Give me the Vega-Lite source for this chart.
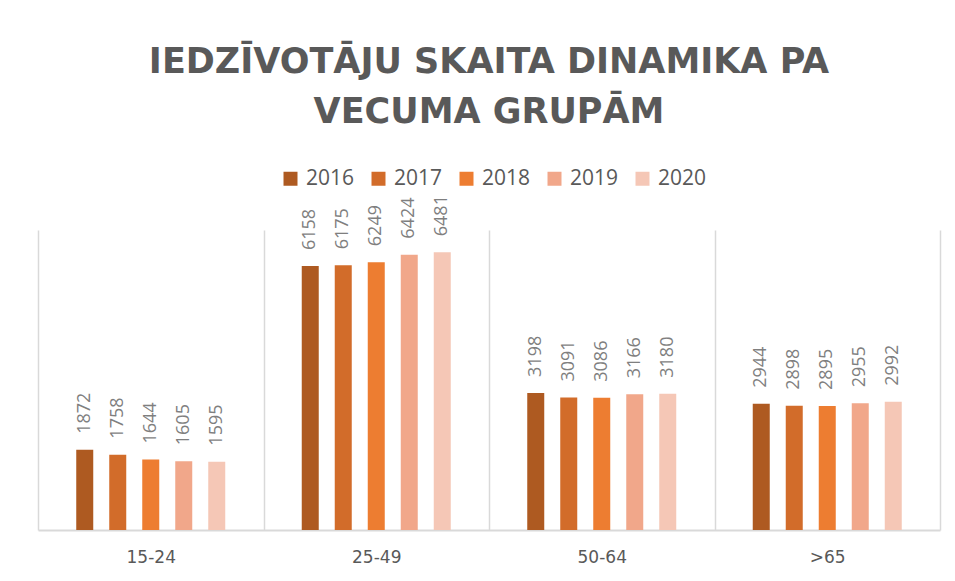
{
  "$schema": "https://vega.github.io/schema/vega-lite/v6.json",
  "width": 902,
  "height": 300,
  "autosize": {"type": "none"},
  "padding": {"left": 38, "top": 230, "right": 15, "bottom": 51},
  "background": "white",
  "title": {
    "text": ["IEDZĪVOTĀJU SKAITA DINAMIKA PA", "VECUMA GRUPĀM"],
    "font": "DejaVu Sans",
    "fontSize": 35,
    "fontWeight": "bold",
    "color": "#595959",
    "lineHeight": 50,
    "anchor": "middle",
    "frame": "group",
    "offset": 38
  },
  "config": {
    "view": {"stroke": null},
    "font": "Open Sans"
  },
  "data": {
    "values": [
      {"grupa": "15-24", "gads": "2016", "vertiba": 1872},
      {"grupa": "15-24", "gads": "2017", "vertiba": 1758},
      {"grupa": "15-24", "gads": "2018", "vertiba": 1644},
      {"grupa": "15-24", "gads": "2019", "vertiba": 1605},
      {"grupa": "15-24", "gads": "2020", "vertiba": 1595},
      {"grupa": "25-49", "gads": "2016", "vertiba": 6158},
      {"grupa": "25-49", "gads": "2017", "vertiba": 6175},
      {"grupa": "25-49", "gads": "2018", "vertiba": 6249},
      {"grupa": "25-49", "gads": "2019", "vertiba": 6424},
      {"grupa": "25-49", "gads": "2020", "vertiba": 6481},
      {"grupa": "50-64", "gads": "2016", "vertiba": 3198},
      {"grupa": "50-64", "gads": "2017", "vertiba": 3091},
      {"grupa": "50-64", "gads": "2018", "vertiba": 3086},
      {"grupa": "50-64", "gads": "2019", "vertiba": 3166},
      {"grupa": "50-64", "gads": "2020", "vertiba": 3180},
      {"grupa": ">65", "gads": "2016", "vertiba": 2944},
      {"grupa": ">65", "gads": "2017", "vertiba": 2898},
      {"grupa": ">65", "gads": "2018", "vertiba": 2895},
      {"grupa": ">65", "gads": "2019", "vertiba": 2955},
      {"grupa": ">65", "gads": "2020", "vertiba": 2992}
    ]
  },
  "encoding": {
    "x": {
      "field": "grupa",
      "type": "nominal",
      "sort": ["15-24", "25-49", "50-64", ">65"],
      "scale": {"paddingInner": 0, "paddingOuter": 0},
      "axis": {
        "title": null,
        "labelAngle": 0,
        "labelFont": "DejaVu Sans",
        "labelFontSize": 17,
        "labelColor": "#595959",
        "labelPadding": 19,
        "domainColor": "#d9d9d9",
        "domainWidth": 2,
        "ticks": false,
        "grid": true,
        "gridColor": "#d9d9d9",
        "gridWidth": 1.5,
        "tickBand": "extent"
      }
    },
    "xOffset": {
      "field": "gads",
      "type": "nominal",
      "scale": {"paddingInner": 0.167, "paddingOuter": 1}
    },
    "y": {
      "field": "vertiba",
      "type": "quantitative",
      "scale": {"domain": [0, 7000]},
      "axis": null
    }
  },
  "layer": [
    {
      "mark": {"type": "bar", "width": 17},
      "encoding": {
        "color": {
          "field": "gads",
          "type": "nominal",
          "scale": {
            "domain": ["2016", "2017", "2018", "2019", "2020"],
            "range": ["#AE5A21", "#D26C2A", "#ED7D31", "#F1A78A", "#F5C7B6"]
          },
          "legend": {
            "title": null,
            "orient": "none",
            "legendX": 242,
            "legendY": -62,
            "direction": "horizontal",
            "columns": 5,
            "symbolType": "square",
            "symbolSize": 196,
            "symbolStrokeWidth": 0,
            "labelFont": "Open Sans",
            "labelFontSize": 21,
            "labelColor": "#595959",
            "labelOffset": 5,
            "columnPadding": 13
          }
        }
      }
    },
    {
      "mark": {
        "type": "text",
        "angle": 270,
        "align": "left",
        "baseline": "middle",
        "dx": 16,
        "font": "Open Sans",
        "fontSize": 18,
        "color": "#7f7f7f"
      },
      "encoding": {
        "text": {"field": "vertiba", "type": "quantitative"}
      }
    }
  ]
}
